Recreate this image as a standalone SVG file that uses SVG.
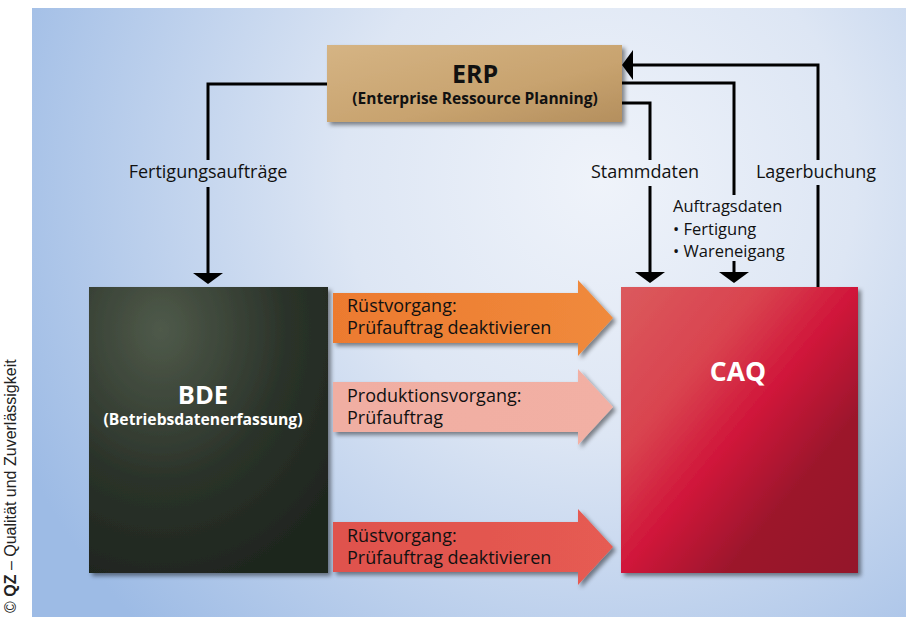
<svg xmlns="http://www.w3.org/2000/svg" width="906" height="617" viewBox="0 0 906 617">
<defs>
<radialGradient id="bg" cx="600" cy="180" r="640" gradientUnits="userSpaceOnUse">
<stop offset="0" stop-color="#eff3fa"/>
<stop offset="0.4" stop-color="#dde6f4"/>
<stop offset="1" stop-color="#9dbbe5"/>
</radialGradient>
<linearGradient id="erpG" x1="0" y1="0" x2="1" y2="1">
<stop offset="0" stop-color="#d5b484"/>
<stop offset="0.6" stop-color="#c8a36f"/>
<stop offset="1" stop-color="#b48f5e"/>
</linearGradient>
<radialGradient id="bdeG" cx="0.3" cy="0.15" r="0.9">
<stop offset="0" stop-color="#4f5a4a"/>
<stop offset="0.6" stop-color="#2a3229"/>
<stop offset="1" stop-color="#1f261f"/>
</radialGradient>
<linearGradient id="caqG" x1="0" y1="0" x2="1" y2="1">
<stop offset="0" stop-color="#db5a5d"/>
<stop offset="0.3" stop-color="#d9434f"/>
<stop offset="0.5" stop-color="#d0163a"/>
<stop offset="0.72" stop-color="#9c162c"/>
<stop offset="1" stop-color="#94152a"/>
</linearGradient>
<linearGradient id="orG" x1="0" y1="0" x2="1" y2="0">
<stop offset="0" stop-color="#ec7a2f"/>
<stop offset="1" stop-color="#f08a3c"/>
</linearGradient>
<linearGradient id="pkG" x1="0" y1="0" x2="1" y2="0">
<stop offset="0" stop-color="#f0aea2"/>
<stop offset="1" stop-color="#f2b0a4"/>
</linearGradient>
<linearGradient id="rdG" x1="0" y1="0" x2="1" y2="0">
<stop offset="0" stop-color="#df524d"/>
<stop offset="1" stop-color="#e65b52"/>
</linearGradient>
<filter id="sh" x="-10%" y="-10%" width="125%" height="125%">
<feDropShadow dx="3" dy="3" stdDeviation="2" flood-color="#000" flood-opacity="0.45"/>
</filter>
<marker id="ah" markerUnits="userSpaceOnUse" markerWidth="12" markerHeight="32" viewBox="0 -16 12 32" refX="0" refY="0" orient="auto">
<path d="M0,-15 L11,0 L0,15 z" fill="#000"/>
</marker>
<style>
.ln{fill:none;stroke:#000;stroke-width:3}
.lbl{font-family:"Open Sans","Noto Sans",sans-serif;font-size:18px;fill:#111}
.sm{font-size:16.5px}
.ttl{font-family:"Open Sans","Noto Sans",sans-serif;font-weight:bold;fill:#111}
.wt{font-family:"Open Sans","Noto Sans",sans-serif;font-weight:bold;fill:#fff}
</style>
</defs>
<rect x="0" y="0" width="906" height="617" fill="#fff"/>
<rect x="32" y="8" width="874" height="609" fill="url(#bg)"/>
<text transform="translate(16,613) rotate(-90)" font-family="'Liberation Sans',Arial,sans-serif" font-size="16" fill="#222">© <tspan font-weight="bold">QZ</tspan> – Qualität und Zuverlässigkeit</text>

<g id="connectors">
<path class="ln" d="M327,84 H208 V160"/>
<path class="ln" d="M208,187 V273" marker-end="url(#ah)"/>
<path class="ln" d="M622,103 H650 V160"/>
<path class="ln" d="M650,186 V272" marker-end="url(#ah)"/>
<path class="ln" d="M622,83 H734 V195"/>
<path class="ln" d="M734,261 V272" marker-end="url(#ah)"/>
<path class="ln" d="M818,287 V185"/>
<path class="ln" d="M818,160 V65 H633" marker-end="url(#ah)"/>
<text class="lbl" x="208" y="178" text-anchor="middle">Fertigungsaufträge</text>
<text class="lbl" x="645" y="178" text-anchor="middle">Stammdaten</text>
<text class="lbl" x="816" y="178" text-anchor="middle">Lagerbuchung</text>
<text class="lbl sm" x="673" y="212">Auftragsdaten</text>
<text class="lbl sm" x="673" y="234.5">• Fertigung</text>
<text class="lbl sm" x="673" y="257">• Wareneigang</text>
</g>

<g id="erp">
<rect x="327" y="45" width="295" height="77" fill="url(#erpG)" filter="url(#sh)"/>
<text class="ttl" x="475" y="83" text-anchor="middle" font-size="25">ERP</text>
<text class="ttl" x="475" y="104" text-anchor="middle" font-size="15.5">(Enterprise Ressource Planning)</text>
</g>

<g id="bde">
<rect x="89" y="287" width="239" height="286" fill="url(#bdeG)" filter="url(#sh)"/>
<text class="wt" x="203" y="404" text-anchor="middle" font-size="25.5">BDE</text>
<text class="wt" x="203" y="425" text-anchor="middle" font-size="15.7">(Betriebsdatenerfassung)</text>
</g>

<g id="caq">
<rect x="621" y="287" width="237" height="286" fill="url(#caqG)" filter="url(#sh)"/>
<text class="wt" x="738" y="381" text-anchor="middle" font-size="26.5">CAQ</text>
</g>

<g id="arrow1">
<polygon points="333,293 578,293 578,280 613,318 578,356 578,343 333,343" fill="url(#orG)" filter="url(#sh)"/>
<text class="lbl" x="347" y="312">Rüstvorgang:</text>
<text class="lbl" x="347" y="334">Prüfauftrag deaktivieren</text>
</g>

<g id="arrow2">
<polygon points="333,382 578,382 578,369 613,407 578,445 578,432 333,432" fill="url(#pkG)" filter="url(#sh)"/>
<text class="lbl" x="347" y="402">Produktionsvorgang:</text>
<text class="lbl" x="347" y="424">Prüfauftrag</text>
</g>

<g id="arrow3">
<polygon points="333,522 578,522 578,509 613,547 578,585 578,572 333,572" fill="url(#rdG)" filter="url(#sh)"/>
<text class="lbl" x="347" y="542">Rüstvorgang:</text>
<text class="lbl" x="347" y="564">Prüfauftrag deaktivieren</text>
</g>
</svg>
